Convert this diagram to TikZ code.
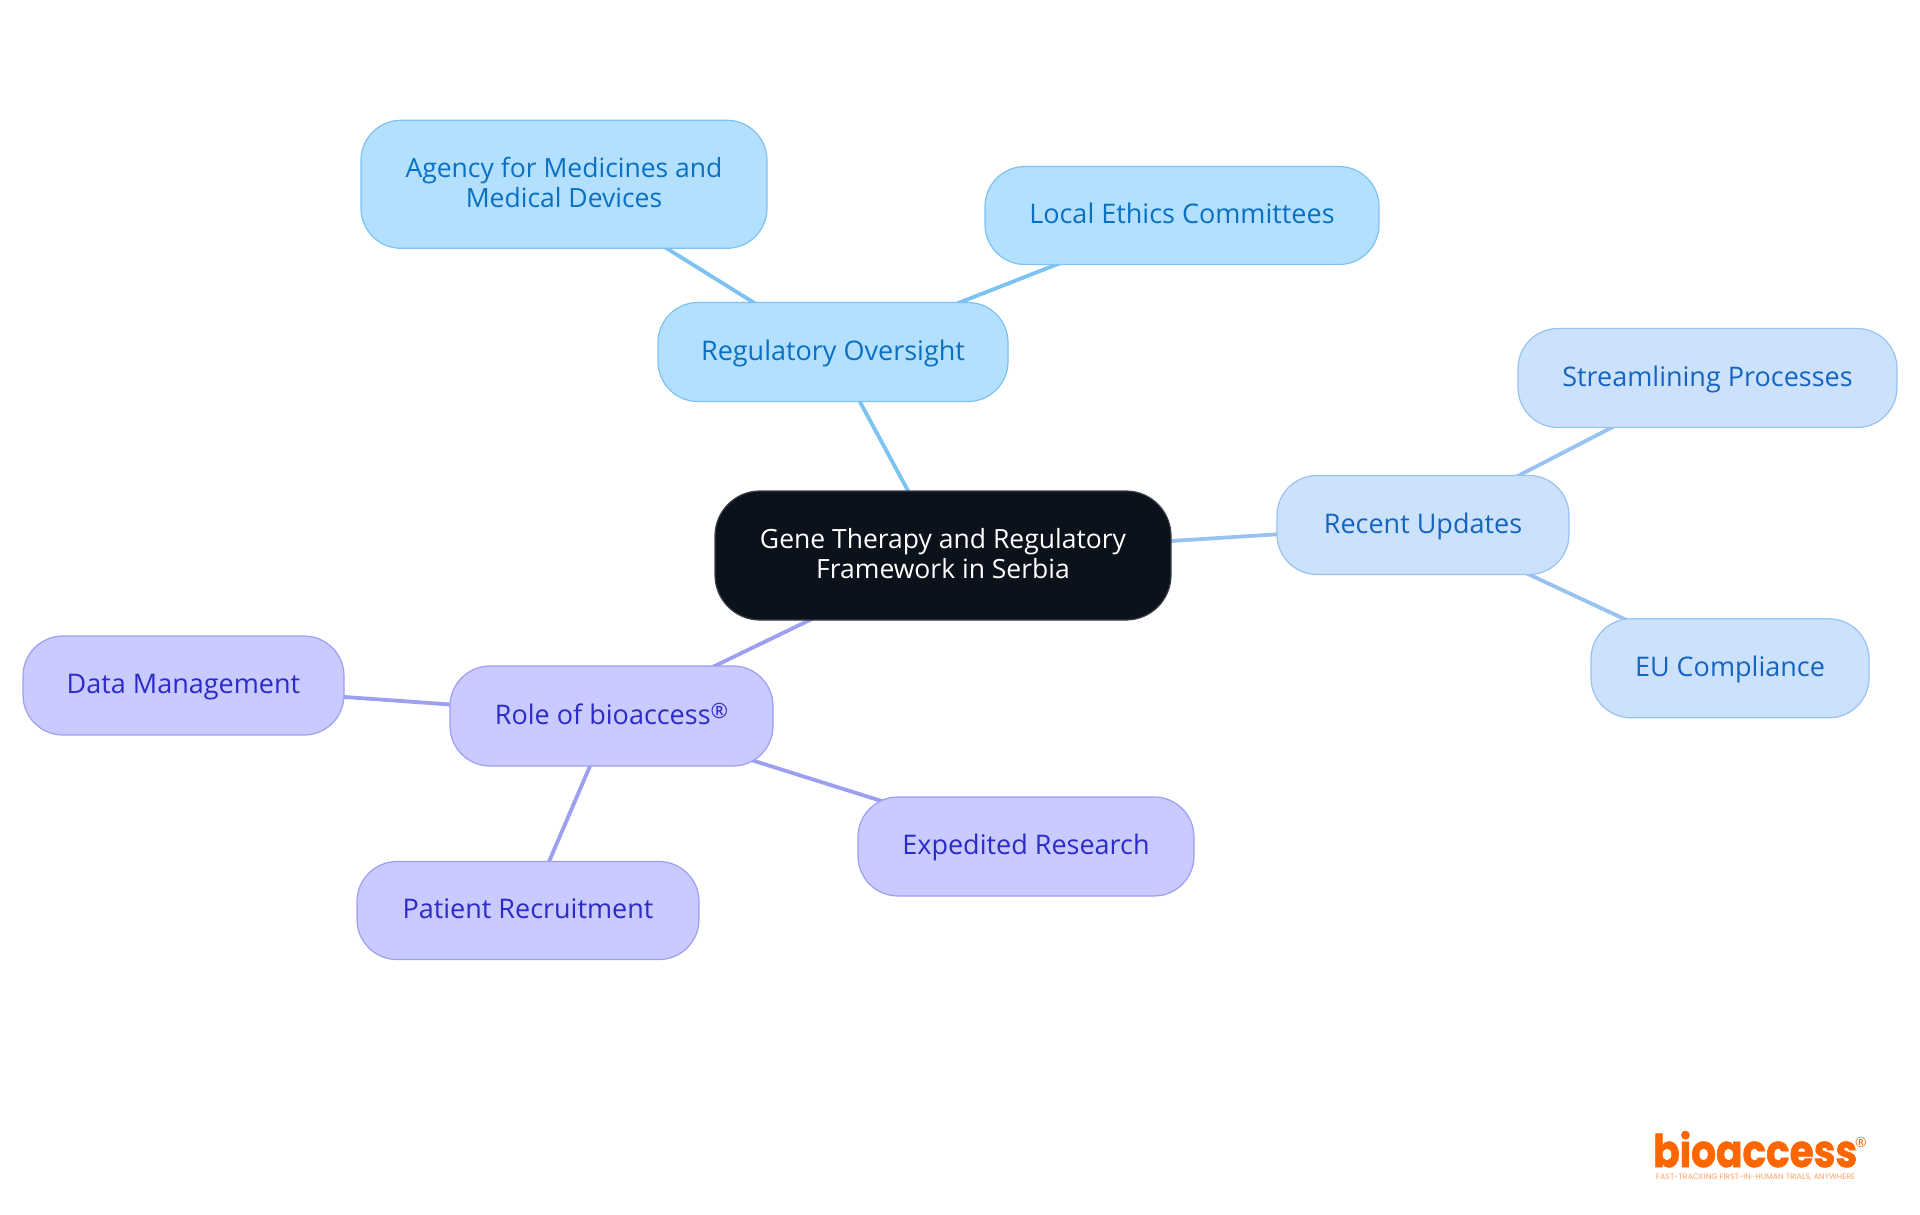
\documentclass[tikz,border=0pt]{standalone}
\usepackage{fontspec}
\usepackage{graphicx}
\setmainfont{Open Sans}
\newfontfamily\logofont[BoldFeatures={FakeBold=1.5}]{Poppins}
\usetikzlibrary{backgrounds}
\definecolor{blueA}{HTML}{B3E0FF}
\definecolor{blueAline}{HTML}{7CC2F3}
\definecolor{blueAtext}{HTML}{0A70C2}
\definecolor{blueB}{HTML}{CCE2FC}
\definecolor{blueBline}{HTML}{98C3F0}
\definecolor{blueBtext}{HTML}{1565C0}
\definecolor{violetC}{HTML}{C9CAFF}
\definecolor{violetCline}{HTML}{9D9FF0}
\definecolor{violetCtext}{HTML}{2B2BC8}
\definecolor{rootfill}{HTML}{0B121B}
\definecolor{rootline}{HTML}{3A3F45}
\definecolor{logoorange}{HTML}{FF6600}
\tikzset{
  mapnode/.style={rounded corners=40pt, inner sep=0pt, align=center, line width=1.2pt,
     font=\fontsize{27}{29.5}\selectfont, text height=20.5pt, text depth=4.5pt},
  twolines/.style={font=\fontsize{26.5}{29.5}\selectfont, text height=52.4pt, text depth=7pt},
  toppic/.style={mapnode, twolines, fill=rootfill, draw=rootline, text=white, rounded corners=45pt},
  groupA/.style={mapnode, fill=blueA, draw=blueAline, text=blueAtext},
  groupB/.style={mapnode, fill=blueB, draw=blueBline, text=blueBtext},
  groupC/.style={mapnode, fill=violetC, draw=violetCline, text=violetCtext},
  linkA/.style={draw=blueAline, line width=3.8pt},
  linkB/.style={draw=blueBline, line width=3.8pt},
  linkC/.style={draw=violetCline, line width=3.8pt},
}
\newcommand{\smallreg}{\raisebox{6pt}{\fontsize{21}{21}\selectfont ®}}
\begin{document}
\begin{tikzpicture}[x=1pt,y=-1pt]
\useasboundingbox (0,0) rectangle (1920,1215);
\node[toppic, minimum width=456pt, minimum height=129pt] (root) at (943,555.5) {Gene Therapy and Regulatory\\Framework in Serbia};
\node[groupA, minimum width=350pt, minimum height=99pt] (reg) at (833,352) {Regulatory Oversight};
\node[groupA, twolines, minimum width=406pt, minimum height=128pt] (agency) at (564,184.3) {Agency for Medicines and\\Medical Devices};
\node[groupA, minimum width=394pt, minimum height=98pt] (ethics) at (1182,215.5) {Local Ethics Committees};
\node[groupB, minimum width=292pt, minimum height=99pt] (recent) at (1423,525) {Recent Updates};
\node[groupB, minimum width=379pt, minimum height=99pt] (stream) at (1707.5,378) {Streamlining Processes};
\node[groupB, minimum width=278pt, minimum height=99pt] (eu) at (1730,668.3) {EU Compliance};
\node[groupC, minimum width=323pt, minimum height=100pt] (role) at (611.5,716) {Role of bioaccess\smallreg};
\node[groupC, minimum width=321pt, minimum height=99pt] (data) at (183.5,685.5) {Data Management};
\node[groupC, minimum width=336pt, minimum height=99pt] (exped) at (1026,846.5) {Expedited Research};
\node[groupC, minimum width=342pt, minimum height=98pt] (patient) at (528,910.5) {Patient Recruitment};
\begin{pgfonlayer}{background}
\fill[white] (0,0) rectangle (1920,1215);
\draw[linkA] (root.center) -- (reg.center);
\draw[linkA] (reg.center) -- (agency.center);
\draw[linkA] (reg.center) -- (ethics.center);
\draw[linkB] (root.center) -- (recent.center);
\draw[linkB] (recent.center) -- (stream.center);
\draw[linkB] (recent.center) -- (eu.center);
\draw[linkC] (root.center) -- (role.center);
\draw[linkC] (role.center) -- (data.center);
\draw[linkC] (role.center) -- (exped.center);
\draw[linkC] (role.center) -- (patient.center);
\end{pgfonlayer}
\node[inner sep=0pt, anchor=base west, text=logoorange] (logo) at (1653,1167) {\resizebox{204pt}{36pt}{\logofont\bfseries bioaccess}};
\node[inner sep=0pt, anchor=center, text=logoorange, font=\fontsize{14}{14}\selectfont] (regmark) at (1861,1142) {®};
\node[inner sep=0pt, anchor=west, text=logoorange!60] (tagline) at (1656,1177.5) {\resizebox{199pt}{!}{\logofont FAST-TRACKING FIRST-IN-HUMAN TRIALS, ANYWHERE}};
\end{tikzpicture}
\end{document}
